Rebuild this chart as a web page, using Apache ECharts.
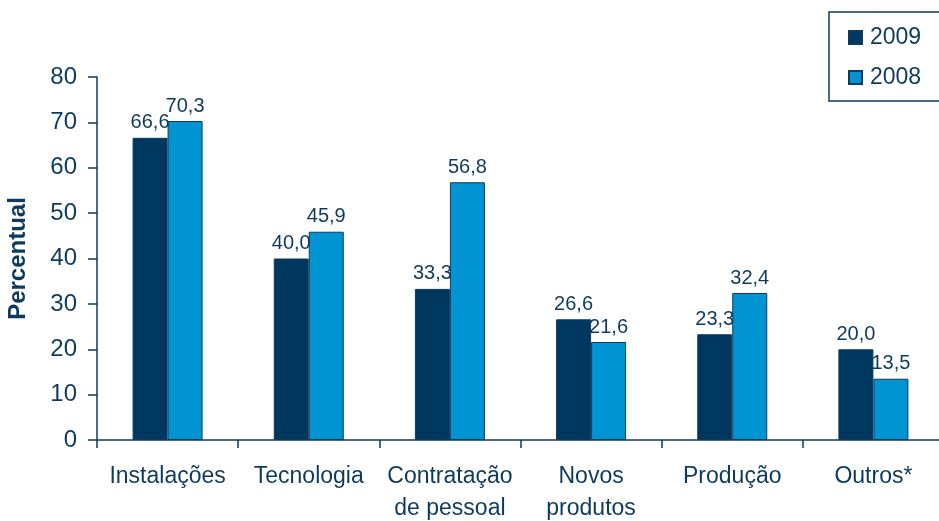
<!DOCTYPE html>
<html>
<head>
<meta charset="utf-8">
<script src="https://cdn.jsdelivr.net/npm/echarts@6/dist/echarts.min.js"></script>
<style>
  html, body { margin: 0; padding: 0; background: #fff; }
  #chart { width: 939px; height: 521px; }
</style>
</head>
<body>
<div id="chart"></div>
<script>
// categorias e valores (%)
const categories = ["Instalações", "Tecnologia", "Contratação\nde pessoal", "Novos\nprodutos", "Produção", "Outros*"];
const values2009 = [66.6, 40.0, 33.3, 26.6, 23.3, 20.0];
const values2008 = [70.3, 45.9, 56.8, 21.6, 32.4, 13.5];
const yTicks = [0, 10, 20, 30, 40, 50, 60, 70, 80];

const navy = "#0d3a5f";
const fontFamily = "Liberation Sans, Arial, sans-serif";

const chart = echarts.init(document.getElementById("chart"));

const fmt = (p) => p.value.toFixed(1).replace(".", ",");

const option = {
    animation: false,
    textStyle: { fontFamily: fontFamily },
    legend: {
        orient: "vertical",
        left: 829,
        top: 12,
        padding: [14, 30, 12, 19],
        itemWidth: 13,
        itemHeight: 13,
        itemGap: 17,
        icon: "rect",
        borderColor: navy,
        borderWidth: 1.5,
        textStyle: { color: navy, fontSize: 23, fontFamily: fontFamily, padding: [0, 0, 0, 3] },
        data: ["2009", "2008"]
    },
    grid: { left: 97, right: -5, top: 77, bottom: 81, containLabel: false, outerBoundsMode: "none" },
    xAxis: {
        type: "category",
        data: categories,
        axisLine: { lineStyle: { color: navy, width: 1.5 } },
        axisTick: { show: true, length: 8, lineStyle: { color: navy, width: 1.5 } },
        axisLabel: { color: navy, fontSize: 23, margin: 21, lineHeight: 32, interval: 0 }
    },
    yAxis: {
        type: "value",
        min: yTicks[0],
        max: yTicks[yTicks.length - 1],
        interval: 10,
        name: "Percentual",
        nameLocation: "middle",
        nameGap: 67,
        nameTextStyle: { color: navy, fontSize: 24, fontWeight: "bold" },
        axisLine: { show: true, lineStyle: { color: navy, width: 1.5 } },
        axisTick: { show: true, length: 9, lineStyle: { color: navy, width: 1.5 } },
        axisLabel: { color: navy, fontSize: 24, margin: 20 },
        splitLine: { show: false }
    },
    series: [
        {
            name: "2009",
            type: "bar",
            data: values2009,
            barWidth: 35,
            barGap: "0%",
            itemStyle: { color: "#00375f", borderColor: navy, borderWidth: 1 },
            label: { show: true, position: "top", distance: 5, color: navy, fontSize: 20, formatter: fmt }
        },
        {
            name: "2008",
            type: "bar",
            data: values2008,
            barWidth: 35,
            barGap: "0%",
            itemStyle: { color: "#0094d3", borderColor: navy, borderWidth: 1 },
            label: { show: true, position: "top", distance: 5, color: navy, fontSize: 20, formatter: fmt }
        }
    ]
};

chart.setOption(option);
</script>
</body>
</html>
